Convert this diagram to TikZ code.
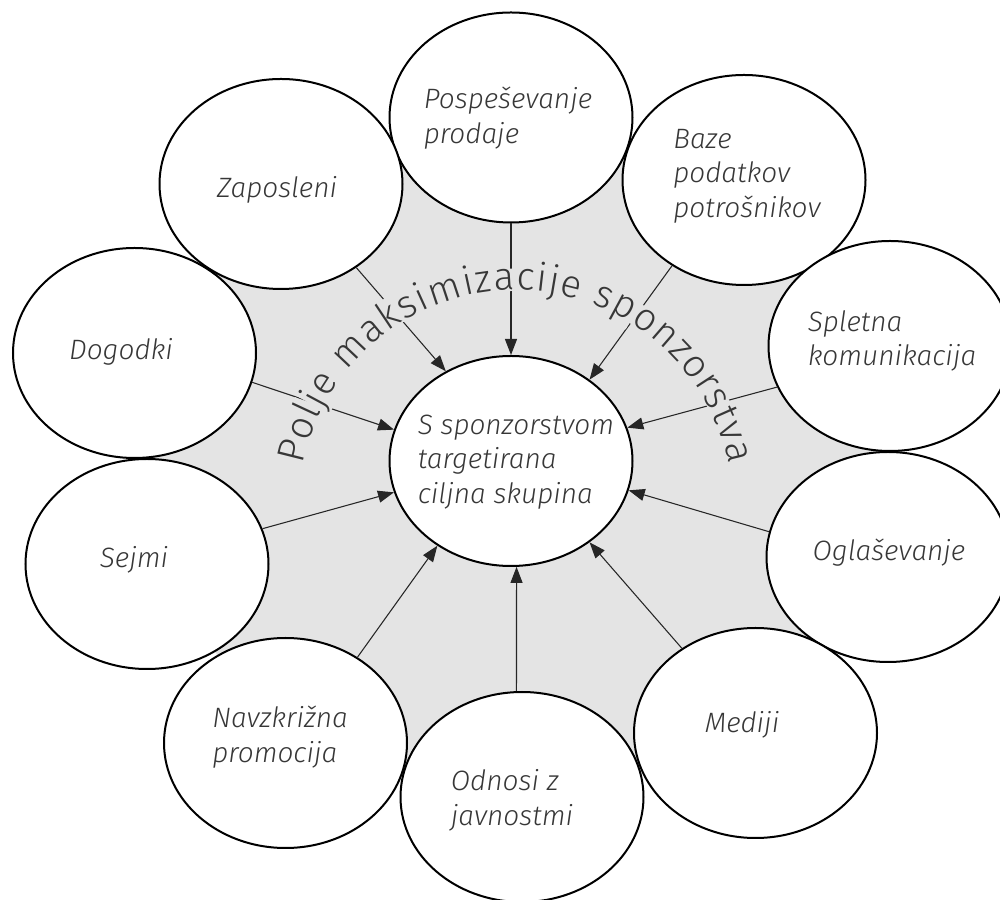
\documentclass[tikz,border=0pt]{standalone}
\usepackage{fontspec}
\IfFontExistsTF{Fira Sans Light}{%
  \setmainfont{Fira Sans Light}[ItalicFont={Fira Sans Light Italic}]%
  \newfontfamily\arcfam{Fira Sans Light}}{%
  \setmainfont{Fira Sans}\newfontfamily\arcfam{Fira Sans}}
\usetikzlibrary{shapes.geometric,arrows.meta,decorations.text}
\definecolor{bg}{RGB}{228,228,228}
\definecolor{txt}{RGB}{55,55,55}
\begin{document}
\begin{tikzpicture}[x=0.75pt,y=0.75pt,
  oval/.style={ellipse, draw=black, line width=1.5pt, fill=white,
    minimum width=182.25pt, minimum height=157.5pt, inner sep=0pt},
  lbl/.style={align=left, font=\fontsize{21}{26}\selectfont\itshape, text=txt, inner sep=0pt},
  conn/.style={draw=black!85, line width=0.8pt, -{Triangle[length=12pt,width=9pt]}}]
\useasboundingbox (0,0) rectangle (1000,900);
% centres
\coordinate (Ccen) at (511,439);
\coordinate (Cpos) at (511,782.5);
\coordinate (Cbaz) at (744,720);
\coordinate (Cspl) at (890,554);
\coordinate (Cogl) at (888,343);
\coordinate (Cmed) at (755.5,167);
\coordinate (Codn) at (522,103);
\coordinate (Cnav) at (285.5,157);
\coordinate (Csej) at (147,336);
\coordinate (Cdog) at (134.5,547);
\coordinate (Czap) at (281,716);
% grey field
\fill[bg] (Cpos) -- (Cbaz) -- (Cspl) -- (Cogl) -- (Cmed) -- (Codn) -- (Cnav) -- (Csej) -- (Cdog) -- (Czap) -- cycle;
% ellipses
\node[oval] (cen) at (Ccen) {};
\node[oval] (pos) at (Cpos) {};
\node[oval] (baz) at (Cbaz) {};
\node[oval] (spl) at (Cspl) {};
\node[oval] (ogl) at (Cogl) {};
\node[oval] (med) at (Cmed) {};
\node[oval] (odn) at (Codn) {};
\node[oval] (nav) at (Cnav) {};
\node[oval] (sej) at (Csej) {};
\node[oval] (dog) at (Cdog) {};
\node[oval] (zap) at (Czap) {};
% connectors
\draw[conn] (pos.-90) -- (cen.90);
\draw[conn] (baz.-130) -- (cen.46);
\draw[conn] (spl.-160) -- (cen.16);
\draw[conn] (ogl.168) -- (cen.-14);
\draw[conn] (med.131) -- (cen.-46);
\draw[conn] (odn.93) -- (cen.-87);
\draw[conn] (nav.50) -- (cen.-131);
\draw[conn] (sej.17) -- (cen.-165);
\draw[conn] (dog.-14) -- (cen.165);
\draw[conn] (zap.-48) -- (cen.126);
% curved title
\begin{scope}
\arcfam\fontsize{29}{29}\selectfont
\path[decorate, decoration={text effects along path,
    text={Polje maksimizacije sponzorstva}, text align=center,
    text effects/.cd, text along path,
    characters={fill=bg, inner sep=0.5pt, text=txt}}]
  (516,393) ++(172:217) arc[start angle=172, end angle=8, radius=217];
\end{scope}
% labels
\node[lbl] (cent) at (516,438) {S sponzorstvom\\targetirana\\ciljna skupina};
\node[lbl] (post) at (508,782) {Pospeševanje\\prodaje};
\node[lbl] (bazt) at (747,724) {Baze\\podatkov\\potrošnikov};
\node[lbl] (splt) at (892,559) {Spletna\\komunikacija};
\node[lbl] (oglt) at (889,347) {Oglaševanje};
\node[lbl] (medt) at (742,175) {Mediji};
\node[lbl] (odnt) at (512,100) {Odnosi z\\javnostmi};
\node[lbl] (navt) at (280,163) {Navzkrižna\\promocija};
\node[lbl] (sejt) at (134,340) {Sejmi};
\node[lbl] (dogt) at (121,548) {Dogodki};
\node[lbl] (zapt) at (277,710) {Zaposleni};
\end{tikzpicture}
\end{document}
